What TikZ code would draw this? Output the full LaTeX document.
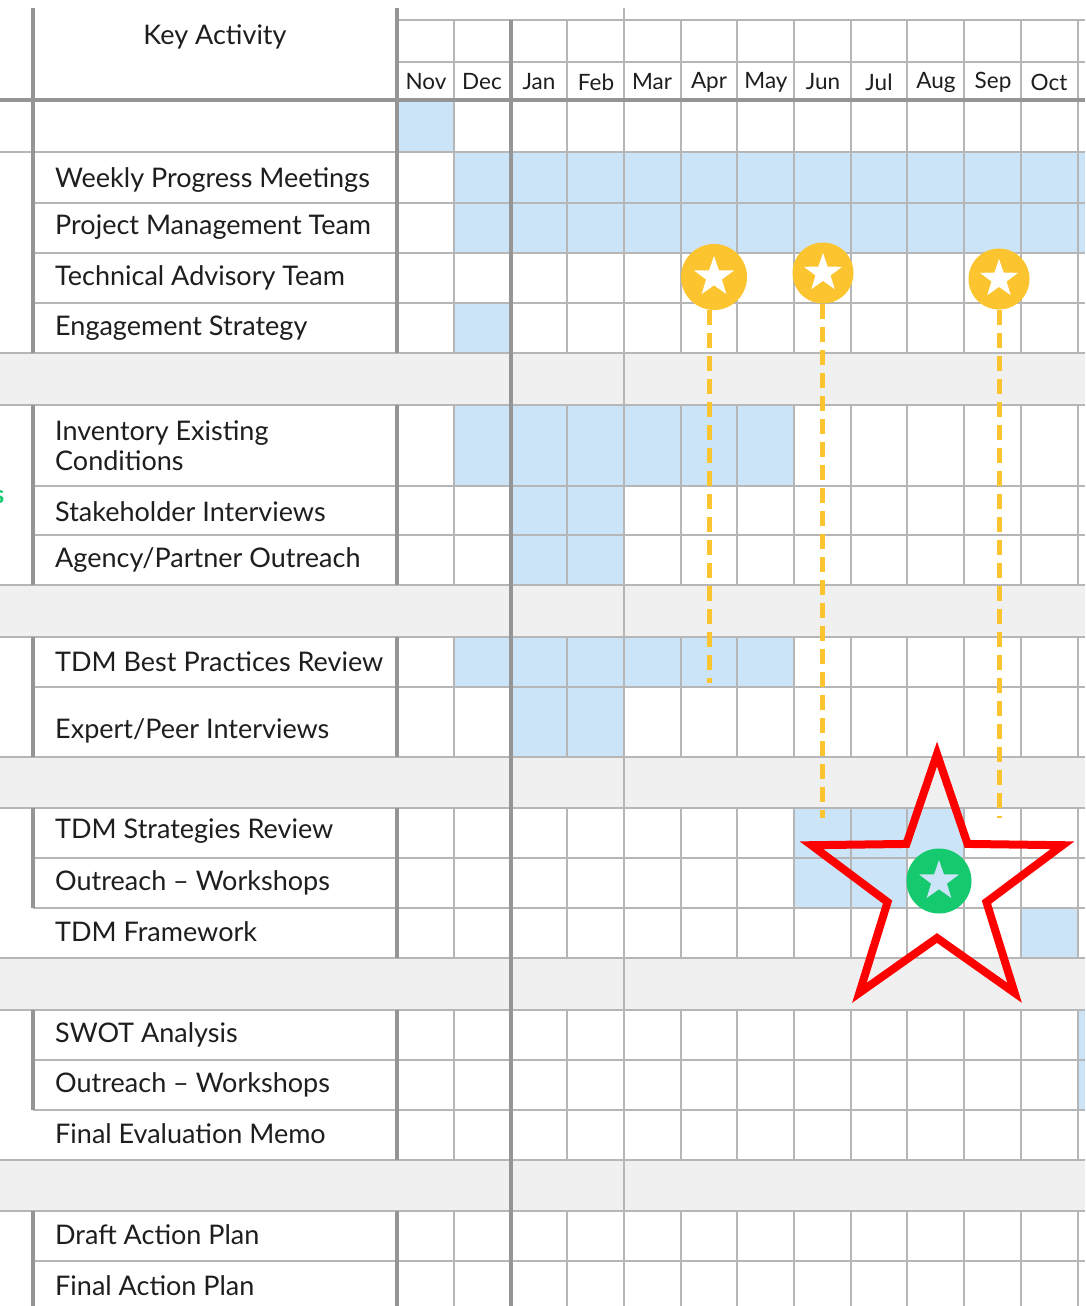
\documentclass[tikz,border=0pt]{standalone}
\usepackage{fontspec}
\setmainfont{Lato}
\usetikzlibrary{shapes.geometric}
\definecolor{bandgray}{HTML}{F0F0F0}
\definecolor{cellblue}{HTML}{CCE4F8}
\definecolor{gridgray}{HTML}{B6B6B6}
\definecolor{heavygray}{HTML}{959595}
\definecolor{goldc}{HTML}{FCC42F}
\definecolor{greenc}{HTML}{14C96E}
\definecolor{txt}{HTML}{1E1E1E}
\tikzset{
  gridline/.style={draw=gridgray, line width=1.6pt},
  heavyline/.style={draw=heavygray, line width=4pt},
  act/.style={anchor=west, inner sep=0pt, text=txt, font=\fontsize{27}{30}\selectfont},
  mon/.style={inner sep=0pt, text=txt, font=\fontsize{22.5}{26}\selectfont},
  goldcirc/.style={circle, fill=goldc, inner sep=0pt},
  greencirc/.style={circle, fill=greenc, inner sep=0pt},
  golddash/.style={draw=goldc, line width=5pt, dash pattern=on 15pt off 8pt},
  pics/fstar/.style 2 args={code={\path[pic actions] (-90:#1) -- (-54:#2) -- (-18:#1) -- (18:#2) -- (54:#1) -- (90:#2) -- (126:#1) -- (162:#2) -- (198:#1) -- (234:#2) -- cycle;}}
}
\begin{document}
\begin{tikzpicture}[x=1pt,y=-1pt]
\useasboundingbox (0,0) rectangle (1085,1306);
\clip (0,0) rectangle (1085,1306);
\fill[white] (0,0) rectangle (1085,1306);
% gray bands
\foreach \a/\b in {353/405,585/637,757/808,958/1010,1160/1211}
  \fill[bandgray] (0,\a) rectangle (1085,\b);
% blue cells
\foreach \xa/\ya/\xb/\yb in {397/100/454/152, 454/152/1085/203, 454/203/1085/253, 454/303/511/353,
  454/405/794/486, 511/486/624/535, 511/535/624/585, 454/637/794/687, 511/687/624/757,
  794/808/964/858, 794/858/907/908, 1021/908/1078/958, 1078/1010/1085/1060, 1078/1060/1085/1110}
  \fill[cellblue] (\xa,\ya) rectangle (\xb,\yb);
% horizontal lines
\foreach \y in {152,353,405,585,637,757,808,958,1010,1160,1211}
  \draw[gridline] (0,\y) -- (1085,\y);
\foreach \y in {203,253,303,486,535,687,858,908,1060,1110,1261}
  \draw[gridline] (33,\y) -- (1085,\y);
\foreach \y in {20,62}
  \draw[gridline] (397,\y) -- (1085,\y);
% vertical month lines
\foreach \t/\b in {20/353,405/585,637/757,808/958,1010/1160,1211/1306}{
  \foreach \x in {454,567,681,737,794,851,907,964,1021,1078}
    \draw[gridline] (\x,\t) -- (\x,\b);
}
\draw[gridline] (624,8) -- (624,1306);
\draw[heavyline] (511,20) -- (511,1306);
\draw[heavyline] (0,100) -- (1085,100);
\foreach \t/\b in {8/353,405/585,637/757,808/958,1010/1160,1211/1306}
  \draw[heavyline] (397,\t) -- (397,\b);
\foreach \t/\b in {8/353,405/585,637/757,808/908,1010/1110,1211/1306}
  \draw[heavyline] (33,\t) -- (33,\b);
% header
\node[font=\fontsize{27}{30}\selectfont, text=txt, inner sep=0pt] (hdr) at (215,37) {Key Activity};
\foreach \m/\x in {Nov/426,Dec/482,Jan/539,Feb/596,Mar/652,Apr/709,May/766,Jun/823,Jul/879,Aug/936,Sep/993,Oct/1049}
  \node[mon] (mon\m) at (\x,82) {\m};
% activities
\node[act] (a1) at (55,180) {Weekly Progress Meetings};
\node[act] (a2) at (55,227) {Project Management Team};
\node[act] (a3) at (55,278) {Technical Advisory Team};
\node[act] (a4) at (55,328) {Engagement Strategy};
\node[act, align=left] (a5) at (55,446) {Inventory Existing\\Conditions};
\node[act] (a6) at (55,512) {Stakeholder Interviews};
\node[act] (a7) at (55,560) {Agency/Partner Outreach};
\node[act] (a8) at (55,662) {TDM Best Practices Review};
\node[act] (a9) at (55,731) {Expert/Peer Interviews};
\node[act] (a10) at (55,831) {TDM Strategies Review};
\node[act] (a11) at (55,883) {Outreach – Workshops};
\node[act] (a12) at (55,932) {TDM Framework};
\node[act] (a13) at (55,1035) {SWOT Analysis};
\node[act] (a14) at (55,1085) {Outreach – Workshops};
\node[act] (a15) at (55,1134) {Final Evaluation Memo};
\node[act] (a16) at (55,1235) {Draft Action Plan};
\node[act] (a17) at (55,1286) {Final Action Plan};
\node[anchor=base east, inner sep=0pt, text=greenc, font=\fontsize{25}{27}\selectfont\bfseries] (gs) at (4.5,503) {s};
% milestones
\coordinate (d1) at (709,683);
\coordinate (d2) at (822,818);
\coordinate (d3) at (999,818);
\node[goldcirc, minimum size=66pt] (m1) at (714,277) {};
\node[goldcirc, minimum size=61pt] (m2) at (823,273) {};
\node[goldcirc, minimum size=61pt] (m3) at (999,279) {};
\draw[golddash] (m1.south -| d1) -- (d1);
\draw[golddash] (m2.south -| d2) -- (d2);
\draw[golddash] (m3.south -| d3) -- (d3);
\pic[fill=white] at (m1.center) {fstar={21}{8.3}};
\pic[fill=white] at (m2.center) {fstar={20}{7.9}};
\pic[fill=white] at (m3.center) {fstar={20}{7.9}};
% big star
\node[greencirc, minimum size=65pt] (g) at (939,881) {};
\pic[fill=cellblue] at (g.center) {fstar={21}{8.3}};
\pic[draw=red, line width=8pt, line join=miter] at (937,886) {fstar={132}{52}};
\end{tikzpicture}
\end{document}
